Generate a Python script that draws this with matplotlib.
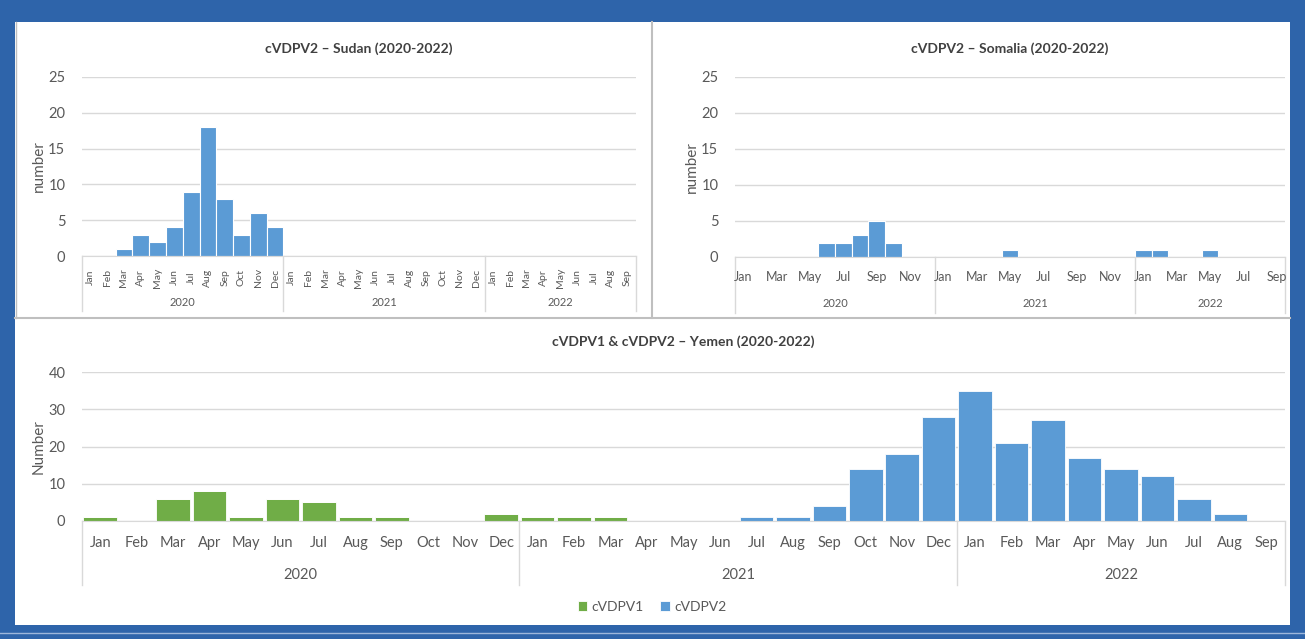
import numpy as np
import matplotlib
matplotlib.use('Agg')
from matplotlib import pyplot as plt
from matplotlib import transforms
from matplotlib.patches import Rectangle
from matplotlib.lines import Line2D

plt.rcParams['font.family'] = ['Lato', 'DejaVu Sans']

# --- data -------------------------------------------------------------
month_names = ['Jan', 'Feb', 'Mar', 'Apr', 'May', 'Jun',
               'Jul', 'Aug', 'Sep', 'Oct', 'Nov', 'Dec']
month_labels = month_names * 2 + month_names[:9]   # Jan 2020 .. Sep 2022
years = ['2020', '2021', '2022']
year_months = [12, 12, 9]

sudan_cvdpv2 = [0, 0, 1, 3, 2, 4, 9, 18, 8, 3, 6, 4,
                0, 0, 0, 0, 0, 0, 0, 0, 0, 0, 0, 0,
                0, 0, 0, 0, 0, 0, 0, 0, 0]
somalia_cvdpv2 = [0, 0, 0, 0, 0, 2, 2, 3, 5, 2, 0, 0,
                  0, 0, 0, 0, 1, 0, 0, 0, 0, 0, 0, 0,
                  1, 1, 0, 0, 1, 0, 0, 0, 0]
yemen_cvdpv1 = [1, 0, 6, 8, 1, 6, 5, 1, 1, 0, 0, 2,
                1, 1, 1, 0, 0, 0, 0, 0, 0, 0, 0, 0,
                0, 0, 0, 0, 0, 0, 0, 0, 0]
yemen_cvdpv2 = [0, 0, 0, 0, 0, 0, 0, 0, 0, 0, 0, 0,
                0, 0, 0, 0, 0, 0, 1, 1, 4, 14, 18, 28,
                35, 21, 27, 17, 14, 12, 6, 2, 0]

# --- style ------------------------------------------------------------
W, H = 1305, 639
FRAME = '#2E64AA'
BLUE = '#5B9BD5'
GREEN = '#70AD47'
GRID = '#D9D9D9'
TXT = '#595959'
TITLE = '#404040'


def px_rect(x0, y0, x1, y1):
    return [x0 / W, 1 - y1 / H, (x1 - x0) / W, (y1 - y0) / H]


def category_axis(ax, labels, tick_step, rot, month_fs, year_fs, month_y, year_y, line_bottom):
    n = len(labels)
    x = np.arange(n)
    ax.set_xlim(-0.5, n - 0.5)
    ax.set_xticks([])
    trans = transforms.blended_transform_factory(ax.transData, ax.transAxes)
    for i in range(0, n, tick_step):
        ax.text(x[i], month_y, labels[i], transform=trans, rotation=rot,
                ha='center', va='center', fontsize=month_fs, color=TXT)
    start = 0
    for yr, m in zip(years, year_months):
        ax.text(start + m / 2 - 0.5, year_y, yr, transform=trans,
                ha='center', va='center', fontsize=year_fs, color=TXT)
        ax.plot([start - 0.5, start - 0.5], [0, line_bottom], transform=trans,
                color=GRID, lw=1, clip_on=False)
        start += m
    ax.plot([n - 0.5, n - 0.5], [0, line_bottom], transform=trans,
            color=GRID, lw=1, clip_on=False)


def style_axes(ax, ylim, yticks, ylabel, title, title_y):
    ax.set_ylim(*ylim)
    ax.set_yticks(yticks)
    ax.tick_params(axis='y', length=0, labelsize=10.5, labelcolor=TXT, pad=12)
    for s in ['top', 'right', 'left']:
        ax.spines[s].set_visible(False)
    ax.spines['bottom'].set_color(GRID)
    ax.grid(True, axis='y', color=GRID, lw=1)
    ax.set_axisbelow(True)
    ax.set_ylabel(ylabel, fontsize=11, color=TXT, labelpad=2)
    ax.set_title(title, fontsize=10, fontweight='bold', color=TITLE, y=title_y)


fig = plt.figure(figsize=(W / 100, H / 100), dpi=100)
fig.patch.set_facecolor(FRAME)

# white panels and separators (behind the axes)
fig.add_artist(Rectangle((15 / W, 1 - 625 / H), (1290 - 15) / W, (625 - 22) / H,
                         transform=fig.transFigure, facecolor='white', edgecolor='none',
                         zorder=-10))
for xs, ys, c, w in [([652, 652], [22, 318], '#BFBFBF', 1.5),
                     ([15, 1290], [318, 318], '#BFBFBF', 1.5),
                     ([16, 16], [22, 318], '#BFBFBF', 1),
                     ([0, W], [633, 633], '#9DB6DA', 1)]:
    fig.add_artist(Line2D([v / W for v in xs], [1 - v / H for v in ys],
                          color=c, lw=w, zorder=-5))

x = np.arange(len(month_labels))

# Sudan
ax1 = fig.add_axes(px_rect(82, 77, 636, 256))
ax1.patch.set_alpha(0)
ax1.bar(x, sudan_cvdpv2, width=1.0, color=BLUE, edgecolor='white', lw=0.8)
style_axes(ax1, (0, 25), range(0, 26, 5), 'number', 'cVDPV2 \u2013 Sudan (2020-2022)', 1.09)
category_axis(ax1, month_labels, 1, 90, 7.5, 8, -0.12, -0.26, -0.31)

# Somalia
ax2 = fig.add_axes(px_rect(735, 77, 1285, 257))
ax2.patch.set_alpha(0)
ax2.bar(x, somalia_cvdpv2, width=1.0, color=BLUE, edgecolor='white', lw=0.8)
style_axes(ax2, (0, 25), range(0, 26, 5), 'number', 'cVDPV2 \u2013 Somalia (2020-2022)', 1.09)
category_axis(ax2, month_labels, 2, 0, 9, 8, -0.11, -0.26, -0.31)

# Yemen
ax3 = fig.add_axes(px_rect(82, 372, 1285, 521))
ax3.patch.set_alpha(0)
b1 = ax3.bar(x, yemen_cvdpv1, width=0.92, color=GREEN, edgecolor='white', lw=0.6, label='cVDPV1')
b2 = ax3.bar(x, yemen_cvdpv2, width=0.92, bottom=yemen_cvdpv1, color=BLUE,
             edgecolor='white', lw=0.6, label='cVDPV2')
style_axes(ax3, (0, 40), range(0, 41, 10), 'Number', 'cVDPV1 & cVDPV2 \u2013 Yemen (2020-2022)', 1.12)
category_axis(ax3, month_labels, 1, 0, 10.5, 10.5, -0.15, -0.36, -0.43)

fig.legend(handles=[b1, b2], loc='center', bbox_to_anchor=(652 / W, 1 - 607 / H), ncol=2,
           frameon=False, fontsize=10, labelcolor=TXT, handlelength=0.7, handleheight=0.7,
           handletextpad=0.3, columnspacing=1.2)

plt.savefig('out.png', dpi=100, facecolor=fig.get_facecolor())
